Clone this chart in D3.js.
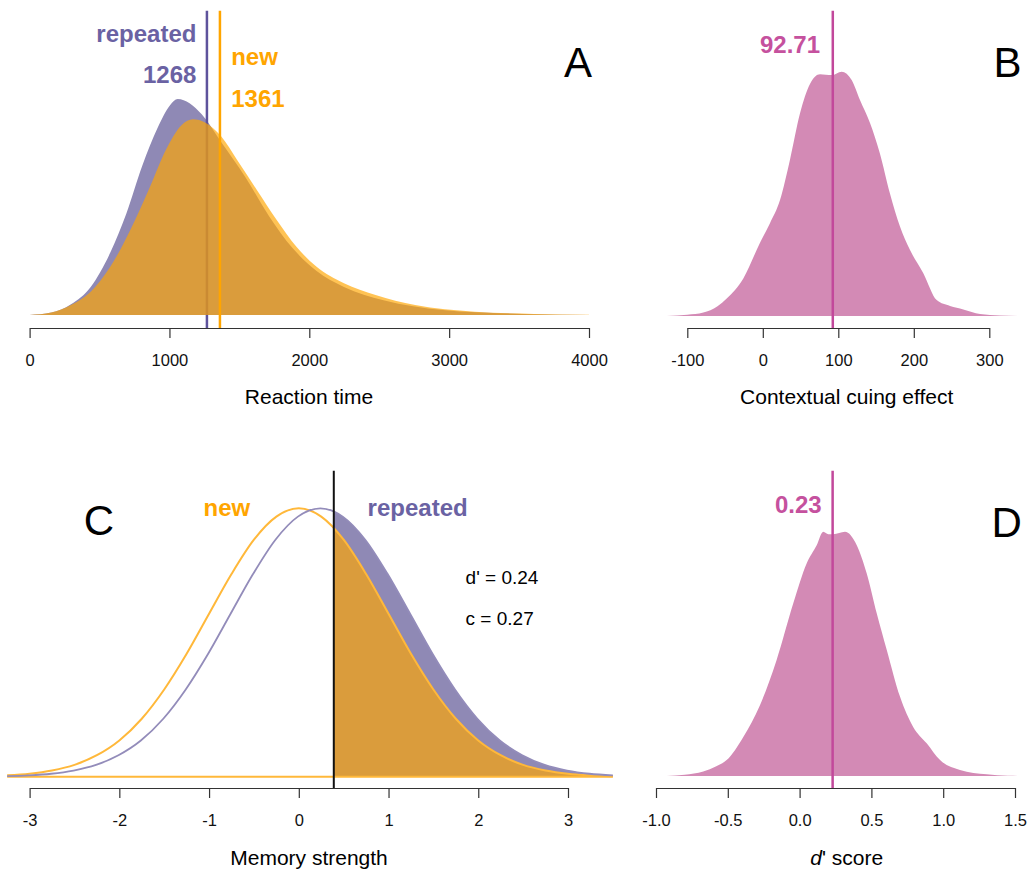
<!DOCTYPE html>
<html>
<head>
<meta charset="utf-8">
<script src="https://cdn.jsdelivr.net/npm/d3@7"></script>
<style>
  body { margin: 0; background: #fff; }
  text { font-family: "Liberation Sans", Arial, sans-serif; }
</style>
</head>
<body>
<script>
'use strict';

// A: reaction time densities, [rt, relative density]
const rtRepeated = [[0,0],[155,0.011],[296,0.05],[437,0.13],[578,0.29],[692,0.47],[805,0.69],[918,0.87],
  [1003,0.97],[1059,1.0],[1144,0.98],[1229,0.93],[1371,0.80],[1541,0.64],[1710,0.46],[1880,0.31],
  [2050,0.205],[2248,0.13],[2531,0.068],[2955,0.023],[3520,0.005],[4000,0]];
const rtNew = [[0,0],[155,0.011],[296,0.046],[437,0.108],[578,0.224],[720,0.394],[861,0.594],[974,0.764],
  [1088,0.88],[1167,0.906],[1258,0.89],[1371,0.826],[1484,0.718],[1625,0.579],[1767,0.44],[1908,0.316],
  [2050,0.224],[2248,0.147],[2474,0.093],[2757,0.046],[3182,0.015],[3606,0.005],[4000,0.001]];
const rtTicks = [0, 1000, 2000, 3000, 4000];
const rtMeanRepeated = 1268;
const rtMeanNew = 1361;

// B: contextual cuing effect posterior
const cueDensity = [[-127,0],[-100,0.005],[-78.8,0.014],[-60,0.04],[-47.8,0.072],[-25.8,0.154],
  [-3.7,0.30],[9.5,0.38],[22.8,0.475],[36,0.64],[49.3,0.83],[62.5,0.95],[75.8,0.99],[91.2,0.986],
  [104.5,1.0],[117.7,0.966],[128.7,0.884],[142,0.79],[155,0.666],[168.5,0.5],[181.7,0.366],[195,0.27],
  [212.6,0.175],[230.3,0.065],[248,0.041],[265.6,0.027],[287.7,0.008],[314,0.002],[349.5,0]];
const cueTicks = [-100, 0, 100, 200, 300];
const cueMean = 92.71;

// C: signal detection curves
const sdtNew = [[-3.25,0.005],[-3,0.011],[-2.75,0.023],[-2.5,0.044],[-2.25,0.08],[-2,0.135],[-1.75,0.216],
  [-1.5,0.325],[-1.25,0.458],[-1,0.607],[-0.75,0.755],[-0.5,0.883],[-0.25,0.969],[0,1],[0.25,0.969],
  [0.5,0.883],[0.75,0.755],[1,0.607],[1.25,0.458],[1.5,0.325],[1.75,0.216],[2,0.135],[2.25,0.08],
  [2.5,0.044],[2.75,0.023],[3,0.011],[3.25,0.005],[3.5,0.002]];
const sdtRepeated = [[-3.25,0.002],[-3.01,0.005],[-2.76,0.011],[-2.51,0.023],[-2.26,0.044],[-2.01,0.08],
  [-1.76,0.135],[-1.51,0.216],[-1.26,0.325],[-1.01,0.458],[-0.76,0.607],[-0.51,0.755],[-0.26,0.883],
  [-0.01,0.969],[0.24,1],[0.49,0.969],[0.74,0.883],[0.99,0.755],[1.24,0.607],[1.49,0.458],[1.74,0.325],
  [1.99,0.216],[2.24,0.135],[2.49,0.08],[2.74,0.044],[2.99,0.023],[3.24,0.011],[3.5,0.005]];
const sdtTicks = [-3, -2, -1, 0, 1, 2, 3];
const sdtCriterion = 0.39;
const sdtStats = ["d' = 0.24", "c = 0.27"];

// D: d' posterior
const dprimeDensity = [[-0.925,0],[-0.8,0.005],[-0.671,0.018],[-0.58,0.04],[-0.508,0.065],[-0.392,0.16],
  [-0.276,0.29],[-0.16,0.475],[-0.044,0.707],[0.049,0.87],[0.119,0.945],[0.165,1.0],[0.2,0.99],
  [0.235,0.99],[0.316,1.0],[0.398,0.945],[0.467,0.83],[0.537,0.666],[0.607,0.516],[0.699,0.325],
  [0.792,0.2],[0.885,0.134],[0.978,0.065],[1.117,0.025],[1.303,0.007],[1.45,0.001],[1.58,0]];
const dprimeTicks = [-1, -0.5, 0, 0.5, 1, 1.5];
const dprimeMean = 0.23;

(function() {

  const col = {
    purpleFill: '#8f89b5',
    purpleLine: '#5e539c',
    purpleText: '#6a62a3',
    orange: '#ffa500',
    orangeLine: '#ffb83a',
    purpleOutline: '#938cba',
    pinkFill: '#d38ab5',
    pinkLine: '#c2489b',
    pinkText: '#c5519e',
    axis: '#333'
  };
  const orangeAlpha = 0.67;

  let svg = null;

  window.onload = function() {
    svg = d3.select('body').append('svg')
      .attr('width', 1035)
      .attr('height', 877);
    drawA();
    drawB();
    drawC();
    drawD();
  };

  // R style axis: line spans first to last tick, ticks point down
  function drawAxis(scale, ticks, fmt, y) {
    svg.append('g')
      .attr('transform', 'translate(0,' + y + ')')
      .call(d3.axisBottom(scale).tickValues(ticks).tickFormat(fmt)
        .tickSize(10).tickSizeOuter(0).tickPadding(16))
      .call(g => {
        g.select('.domain').attr('stroke', col.axis).attr('stroke-width', 1.2);
        g.selectAll('.tick line').attr('stroke', col.axis).attr('stroke-width', 1.2);
        g.selectAll('.tick text').attr('font-size', 16.5).attr('fill', '#111');
      });
  }

  function label(x, y, str, opts) {
    let t = svg.append('text')
      .attr('x', x)
      .attr('y', y)
      .attr('font-size', opts.size || 24)
      .attr('font-weight', opts.bold ? 'bold' : 'normal')
      .attr('fill', opts.color || '#000')
      .attr('text-anchor', opts.anchor || 'start')
      .text(str);
    return t;
  }

  function areaGen(x, y) {
    return d3.area()
      .x(d => x(d[0]))
      .y0(y(0))
      .y1(d => y(d[1]))
      .curve(d3.curveMonotoneX);
  }

  function lineGen(x, y) {
    return d3.line()
      .x(d => x(d[0]))
      .y(d => y(d[1]))
      .curve(d3.curveMonotoneX);
  }

  function drawA() {
    let x = d3.scaleLinear().domain([0, 4000]).range([29.6, 589]);
    let y = d3.scaleLinear().domain([0, 1]).range([315, 99]);
    let area = areaGen(x, y);

    svg.append('path').datum(rtRepeated)
      .attr('d', area).attr('fill', col.purpleFill);
    svg.append('line')
      .attr('x1', x(rtMeanRepeated)).attr('x2', x(rtMeanRepeated))
      .attr('y1', 10.7).attr('y2', 328)
      .attr('stroke', col.purpleLine).attr('stroke-width', 2.5);
    svg.append('path').datum(rtNew)
      .attr('d', area).attr('fill', col.orange).attr('fill-opacity', orangeAlpha);
    svg.append('line')
      .attr('x1', x(rtMeanNew)).attr('x2', x(rtMeanNew))
      .attr('y1', 10.7).attr('y2', 328)
      .attr('stroke', col.orange).attr('stroke-width', 2.5);

    drawAxis(x, rtTicks, d => d, 328);

    label(196.4, 41.7, 'repeated', {bold: true, color: col.purpleText, anchor: 'end'});
    label(196.4, 83.3, String(rtMeanRepeated), {bold: true, color: col.purpleText, anchor: 'end'});
    label(231.2, 65, 'new', {bold: true, color: col.orange});
    label(231.2, 107.3, String(rtMeanNew), {bold: true, color: col.orange});
    label(578, 76.7, 'A', {size: 42, anchor: 'middle'});
    label(309, 404, 'Reaction time', {size: 21, anchor: 'middle'});
  }

  function drawB() {
    let x = d3.scaleLinear().domain([-100, 300]).range([687.3, 989.3]);
    let y = d3.scaleLinear().domain([0, 1]).range([316, 71.7]);

    svg.append('path').datum(cueDensity)
      .attr('d', areaGen(x, y)).attr('fill', col.pinkFill);
    svg.append('line')
      .attr('x1', x(cueMean)).attr('x2', x(cueMean))
      .attr('y1', 10.7).attr('y2', 328)
      .attr('stroke', col.pinkLine).attr('stroke-width', 2.5);

    drawAxis(x, cueTicks, d => d, 328);

    label(820, 53.3, cueMean.toFixed(2), {bold: true, color: col.pinkText, anchor: 'end'});
    label(1007.5, 76.7, 'B', {size: 42, anchor: 'middle'});
    label(846.7, 404, 'Contextual cuing effect', {size: 21, anchor: 'middle'});
  }

  function drawC() {
    let x = d3.scaleLinear().domain([-3, 3]).range([29.6, 568]);
    let y = d3.scaleLinear().domain([0, 1]).range([776.7, 508.3]);
    let area = areaGen(x, y);
    let line = lineGen(x, y);

    // only the part above the criterion is filled
    svg.append('clipPath').attr('id', 'hitClip')
      .append('rect')
        .attr('x', x(sdtCriterion)).attr('y', 400)
        .attr('width', 400).attr('height', 400);

    svg.append('path').datum(sdtRepeated)
      .attr('d', area).attr('fill', col.purpleFill)
      .attr('clip-path', 'url(#hitClip)');
    svg.append('path').datum(sdtNew)
      .attr('d', area).attr('fill', col.orange).attr('fill-opacity', orangeAlpha)
      .attr('clip-path', 'url(#hitClip)');

    // baseline of the new curve
    let ext = d3.extent(sdtNew, d => d[0]);
    svg.append('line')
      .attr('x1', x(ext[0])).attr('x2', x(ext[1]))
      .attr('y1', y(0)).attr('y2', y(0))
      .attr('stroke', col.orangeLine).attr('stroke-width', 2);

    svg.append('path').datum(sdtNew)
      .attr('d', line).attr('fill', 'none')
      .attr('stroke', col.orangeLine).attr('stroke-width', 2);
    svg.append('path').datum(sdtRepeated)
      .attr('d', line).attr('fill', 'none')
      .attr('stroke', col.purpleOutline).attr('stroke-width', 1.8);

    svg.append('line')
      .attr('x1', x(sdtCriterion)).attr('x2', x(sdtCriterion))
      .attr('y1', 470.7).attr('y2', 788)
      .attr('stroke', '#111').attr('stroke-width', 2);

    drawAxis(x, sdtTicks, d => d, 788);

    label(98.8, 535, 'C', {size: 42, anchor: 'middle'});
    label(203.6, 516, 'new', {bold: true, color: col.orange});
    label(367.6, 516, 'repeated', {bold: true, color: col.purpleText});
    label(465.6, 584, sdtStats[0], {size: 19});
    label(465.6, 625, sdtStats[1], {size: 19});
    label(309, 865, 'Memory strength', {size: 21, anchor: 'middle'});
  }

  function drawD() {
    let x = d3.scaleLinear().domain([-1, 1.5]).range([656, 1015]);
    let y = d3.scaleLinear().domain([0, 1]).range([776, 531.7]);

    svg.append('path').datum(dprimeDensity)
      .attr('d', areaGen(x, y)).attr('fill', col.pinkFill);
    svg.append('line')
      .attr('x1', x(dprimeMean)).attr('x2', x(dprimeMean))
      .attr('y1', 470.7).attr('y2', 788)
      .attr('stroke', col.pinkLine).attr('stroke-width', 2.5);

    drawAxis(x, dprimeTicks, d => d.toFixed(1), 788);

    label(821.7, 513.3, dprimeMean.toFixed(2), {bold: true, color: col.pinkText, anchor: 'end'});
    label(1006.7, 536.7, 'D', {size: 42, anchor: 'middle'});

    let t = label(846.7, 865, '', {size: 21, anchor: 'middle'});
    t.append('tspan').attr('font-style', 'italic').text('d');
    t.append('tspan').text("' score");
  }

})();
</script>
</body>
</html>
